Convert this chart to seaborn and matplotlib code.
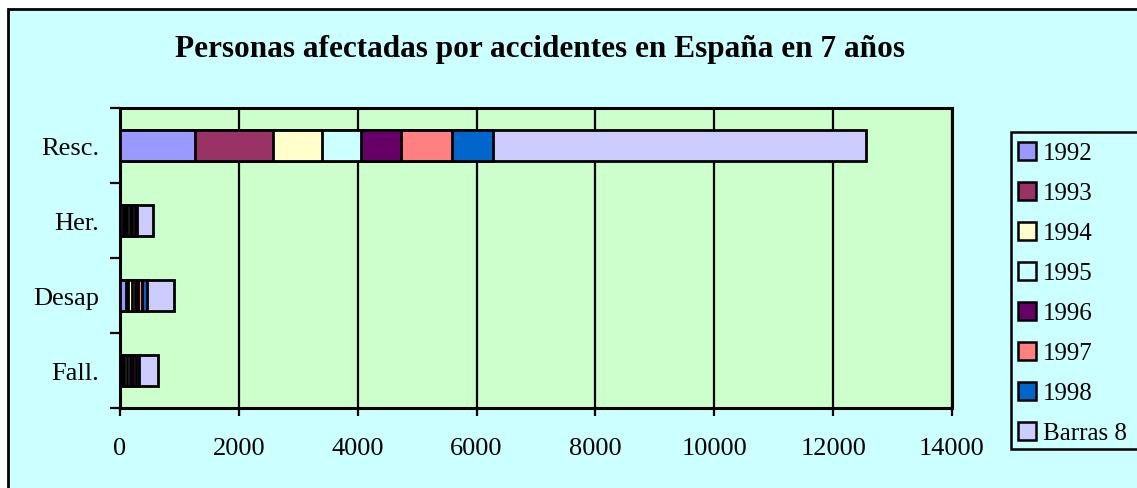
import numpy as np
import pandas as pd
import seaborn as sns
import matplotlib.pyplot as plt
from matplotlib.patches import Patch, Rectangle

# datos
categorias = ['Resc.', 'Her.', 'Desap', 'Fall.']
series = ['1992', '1993', '1994', '1995', '1996', '1997', '1998', 'Barras 8']
v1992 = [1270, 45, 95, 40]
v1993 = [1300, 35, 45, 35]
v1994 = [825, 45, 55, 50]
v1995 = [652, 40, 50, 45]
v1996 = [673, 45, 50, 50]
v1997 = [870, 45, 70, 45]
v1998 = [684, 35, 85, 50]
vbarras = [6280, 270, 455, 330]
valores = [v1992, v1993, v1994, v1995, v1996, v1997, v1998, vbarras]
colores = ['#9999FF', '#993366', '#FFFFCC', '#CCFFFF',
           '#660066', '#FF8080', '#0066CC', '#CCCCFF']
xticks = [0, 2000, 4000, 6000, 8000, 10000, 12000, 14000]

sns.set_style('white')
plt.rcParams['font.family'] = ['Liberation Serif', 'DejaVu Serif']
plt.rcParams['text.color'] = 'black'
plt.rcParams['xtick.labelcolor'] = 'black'
plt.rcParams['ytick.labelcolor'] = 'black'

W, H = 1137, 489
fig = plt.figure(figsize=(W / 100, H / 100), dpi=100)
fig.patch.set_facecolor('white')

# marco exterior
fig.patches.append(Rectangle((8 / W, -0.2), 1.2, 1 - 10 / H + 0.2,
                             transform=fig.transFigure, facecolor='#CCFFFF',
                             edgecolor='black', lw=2, zorder=-10))

ax = fig.add_axes([120 / W, 1 - 409 / H, (952 - 120) / W, 300 / H])
ax.set_facecolor('#CCFFCC')

df = pd.DataFrame(valores, index=series, columns=categorias)
acumulado = df.cumsum()

# barras apiladas: primero la suma total, luego las más cortas encima
for serie, color in reversed(list(zip(series, colores))):
    sns.barplot(x=acumulado.loc[serie].values, y=categorias, orient='h',
                color=color, edgecolor='black', linewidth=2.0,
                width=0.41, saturation=1, ax=ax, zorder=3)

ax.set_xlim(0, 14000)
ax.set_ylim(3.5, -0.5)
ax.set_xticks(xticks)
ax.set_xticklabels([str(t) for t in xticks])
ax.xaxis.grid(True, color='black', lw=1.6, zorder=0)
ax.set_axisbelow(True)
ax.set_xlabel('')
ax.set_ylabel('')

ax.tick_params(axis='x', length=6, width=1.6, color='black', pad=15,
               labelsize=19, direction='out', bottom=True)
ax.tick_params(axis='y', which='major', length=0, pad=15, labelsize=19)
ax.set_yticks([-0.5, 0.5, 1.5, 2.5, 3.5], minor=True)
ax.tick_params(axis='y', which='minor', length=7, width=1.6,
               color='black', direction='out', left=True)

for lado in ['top', 'right', 'bottom', 'left']:
    ax.spines[lado].set_color('black')
    ax.spines[lado].set_linewidth(2.2)

fig.text(540 / W, 1 - 50 / H, 'Personas afectadas por accidentes en España en 7 años',
         ha='center', va='center', fontsize=22.5, fontweight='bold')

# caja de la leyenda (sale por el borde derecho como en el original)
fig.patches.append(Rectangle((1011 / W, 1 - 450 / H), 0.2, 317 / H,
                             transform=fig.transFigure, facecolor='#CCFFFF',
                             edgecolor='black', lw=1.8, zorder=-5))

handles = [Patch(facecolor=c, edgecolor='black', lw=1.8) for c in colores]
leg = fig.legend(handles, series, loc='upper left',
                 bbox_to_anchor=(1018 / W, 1 - 143 / H),
                 bbox_transform=fig.transFigure,
                 fontsize=18, frameon=False,
                 handlelength=0.7, handleheight=0.7, handletextpad=0.3,
                 labelspacing=0.7, borderpad=0, borderaxespad=0)

fig.savefig('out.png', dpi=100)
